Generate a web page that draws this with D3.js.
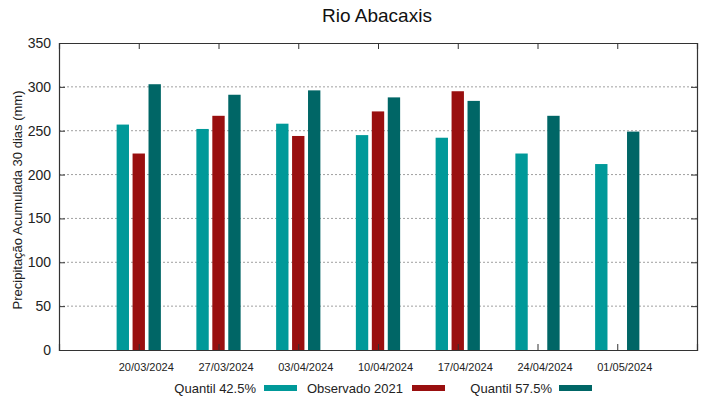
<!DOCTYPE html>
<html>
<head>
<meta charset="utf-8">
<script src="https://cdn.jsdelivr.net/npm/d3@7"></script>
<style>
  body { margin: 0; background: #fff; }
  svg { font-family: "Liberation Sans", Arial, sans-serif; }
</style>
</head>
<body>
<div id="chart"></div>
<script>
// Rio Abacaxis — precipitação acumulada 30 dias, quantis vs observado
const dates = ['20/03/2024', '27/03/2024', '03/04/2024', '10/04/2024', '17/04/2024', '24/04/2024', '01/05/2024'];
const q425 = [257, 252, 258, 245, 242, 224, 212];
const obs2021 = [224, 267, 244, 272, 295, null, null];
const q575 = [303, 291, 296, 288, 284, 267, 249];
const yTicks = [0, 50, 100, 150, 200, 250, 300, 350];

const series = [
    { name: 'Quantil 42.5%', values: q425, color: '#009999', offset: -0.2 },
    { name: 'Observado 2021', values: obs2021, color: '#990f0f', offset: 0 },
    { name: 'Quantil 57.5%', values: q575, color: '#006666', offset: 0.2 },
];

const width = 719;
const height = 399;
const margin = { top: 43, right: 22, bottom: 49, left: 59 };
const innerW = width - margin.left - margin.right;
const innerH = height - margin.top - margin.bottom;

const svg = d3.select('#chart')
    .append('svg')
    .attr('width', width)
    .attr('height', height);

const g = svg.append('g').attr('transform', `translate(${margin.left},${margin.top})`);

// index scale, one empty slot either side like the original
const x = d3.scaleLinear().domain([-1, dates.length]).range([0, innerW]);
const y = d3.scaleLinear().domain([0, 350]).range([innerH, 0]);
const barW = x(0.155) - x(0);

// Grid lines
g.append('g')
    .selectAll('line')
    .data(yTicks.filter(t => t > 0 && t < 350))
    .enter()
    .append('line')
    .attr('x1', 0)
    .attr('x2', innerW)
    .attr('y1', d => y(d))
    .attr('y2', d => y(d))
    .attr('stroke', '#a0a0a0')
    .attr('stroke-width', 1)
    .attr('stroke-dasharray', '2,2');

// Bars
series.forEach(s => {
    g.append('g')
        .selectAll('rect')
        .data(s.values.map((v, i) => ({ v, i })).filter(d => d.v != null))
        .enter()
        .append('rect')
        .attr('x', d => x(d.i + s.offset) - barW / 2)
        .attr('y', d => y(d.v))
        .attr('width', barW)
        .attr('height', d => innerH - y(d.v))
        .attr('fill', s.color);
});

// Axes (gnuplot style: ticks point inward, mirrored)
const idx = d3.range(dates.length);
g.append('g')
    .attr('transform', `translate(0,${innerH})`)
    .call(d3.axisBottom(x).tickValues(idx).tickSize(-6).tickPadding(13).tickFormat(i => dates[i]))
    .call(a => a.selectAll('text').style('font-size', '11px').attr('fill', '#222').attr('dx', 7));

g.append('g')
    .call(d3.axisTop(x).tickValues(idx).tickSize(-6).tickFormat(''));

g.append('g')
    .call(d3.axisLeft(y).tickValues(yTicks).tickSize(-6).tickPadding(8))
    .call(a => a.selectAll('text').style('font-size', '14px').attr('fill', '#222'));

g.append('g')
    .attr('transform', `translate(${innerW},0)`)
    .call(d3.axisRight(y).tickValues(yTicks).tickSize(-6).tickFormat(''));

svg.selectAll('.domain').attr('stroke', '#333').attr('stroke-width', 1.2);
svg.selectAll('.tick line').attr('stroke', '#333');

// Title
svg.append('text')
    .attr('x', 377)
    .attr('y', 22)
    .attr('text-anchor', 'middle')
    .style('font-size', '19px')
    .attr('fill', '#111')
    .text('Rio Abacaxis');

// Y axis label
svg.append('text')
    .attr('transform', 'translate(22,200) rotate(-90)')
    .attr('text-anchor', 'middle')
    .style('font-size', '13px')
    .attr('fill', '#222')
    .text('Precipitação Acumulada 30 dias (mm)');

// Legend
const legendItems = [
    { textEnd: 256, sampleX: 264 },
    { textEnd: 403, sampleX: 412 },
    { textEnd: 552, sampleX: 559 },
];
const legend = svg.append('g');
series.forEach((s, i) => {
    const li = legendItems[i];
    legend.append('text')
        .attr('x', li.textEnd)
        .attr('y', 393)
        .attr('text-anchor', 'end')
        .style('font-size', '13px')
        .attr('fill', '#222')
        .text(s.name);
    legend.append('rect')
        .attr('x', li.sampleX)
        .attr('y', 385)
        .attr('width', 33)
        .attr('height', 6)
        .attr('fill', s.color);
});
</script>
</body>
</html>
